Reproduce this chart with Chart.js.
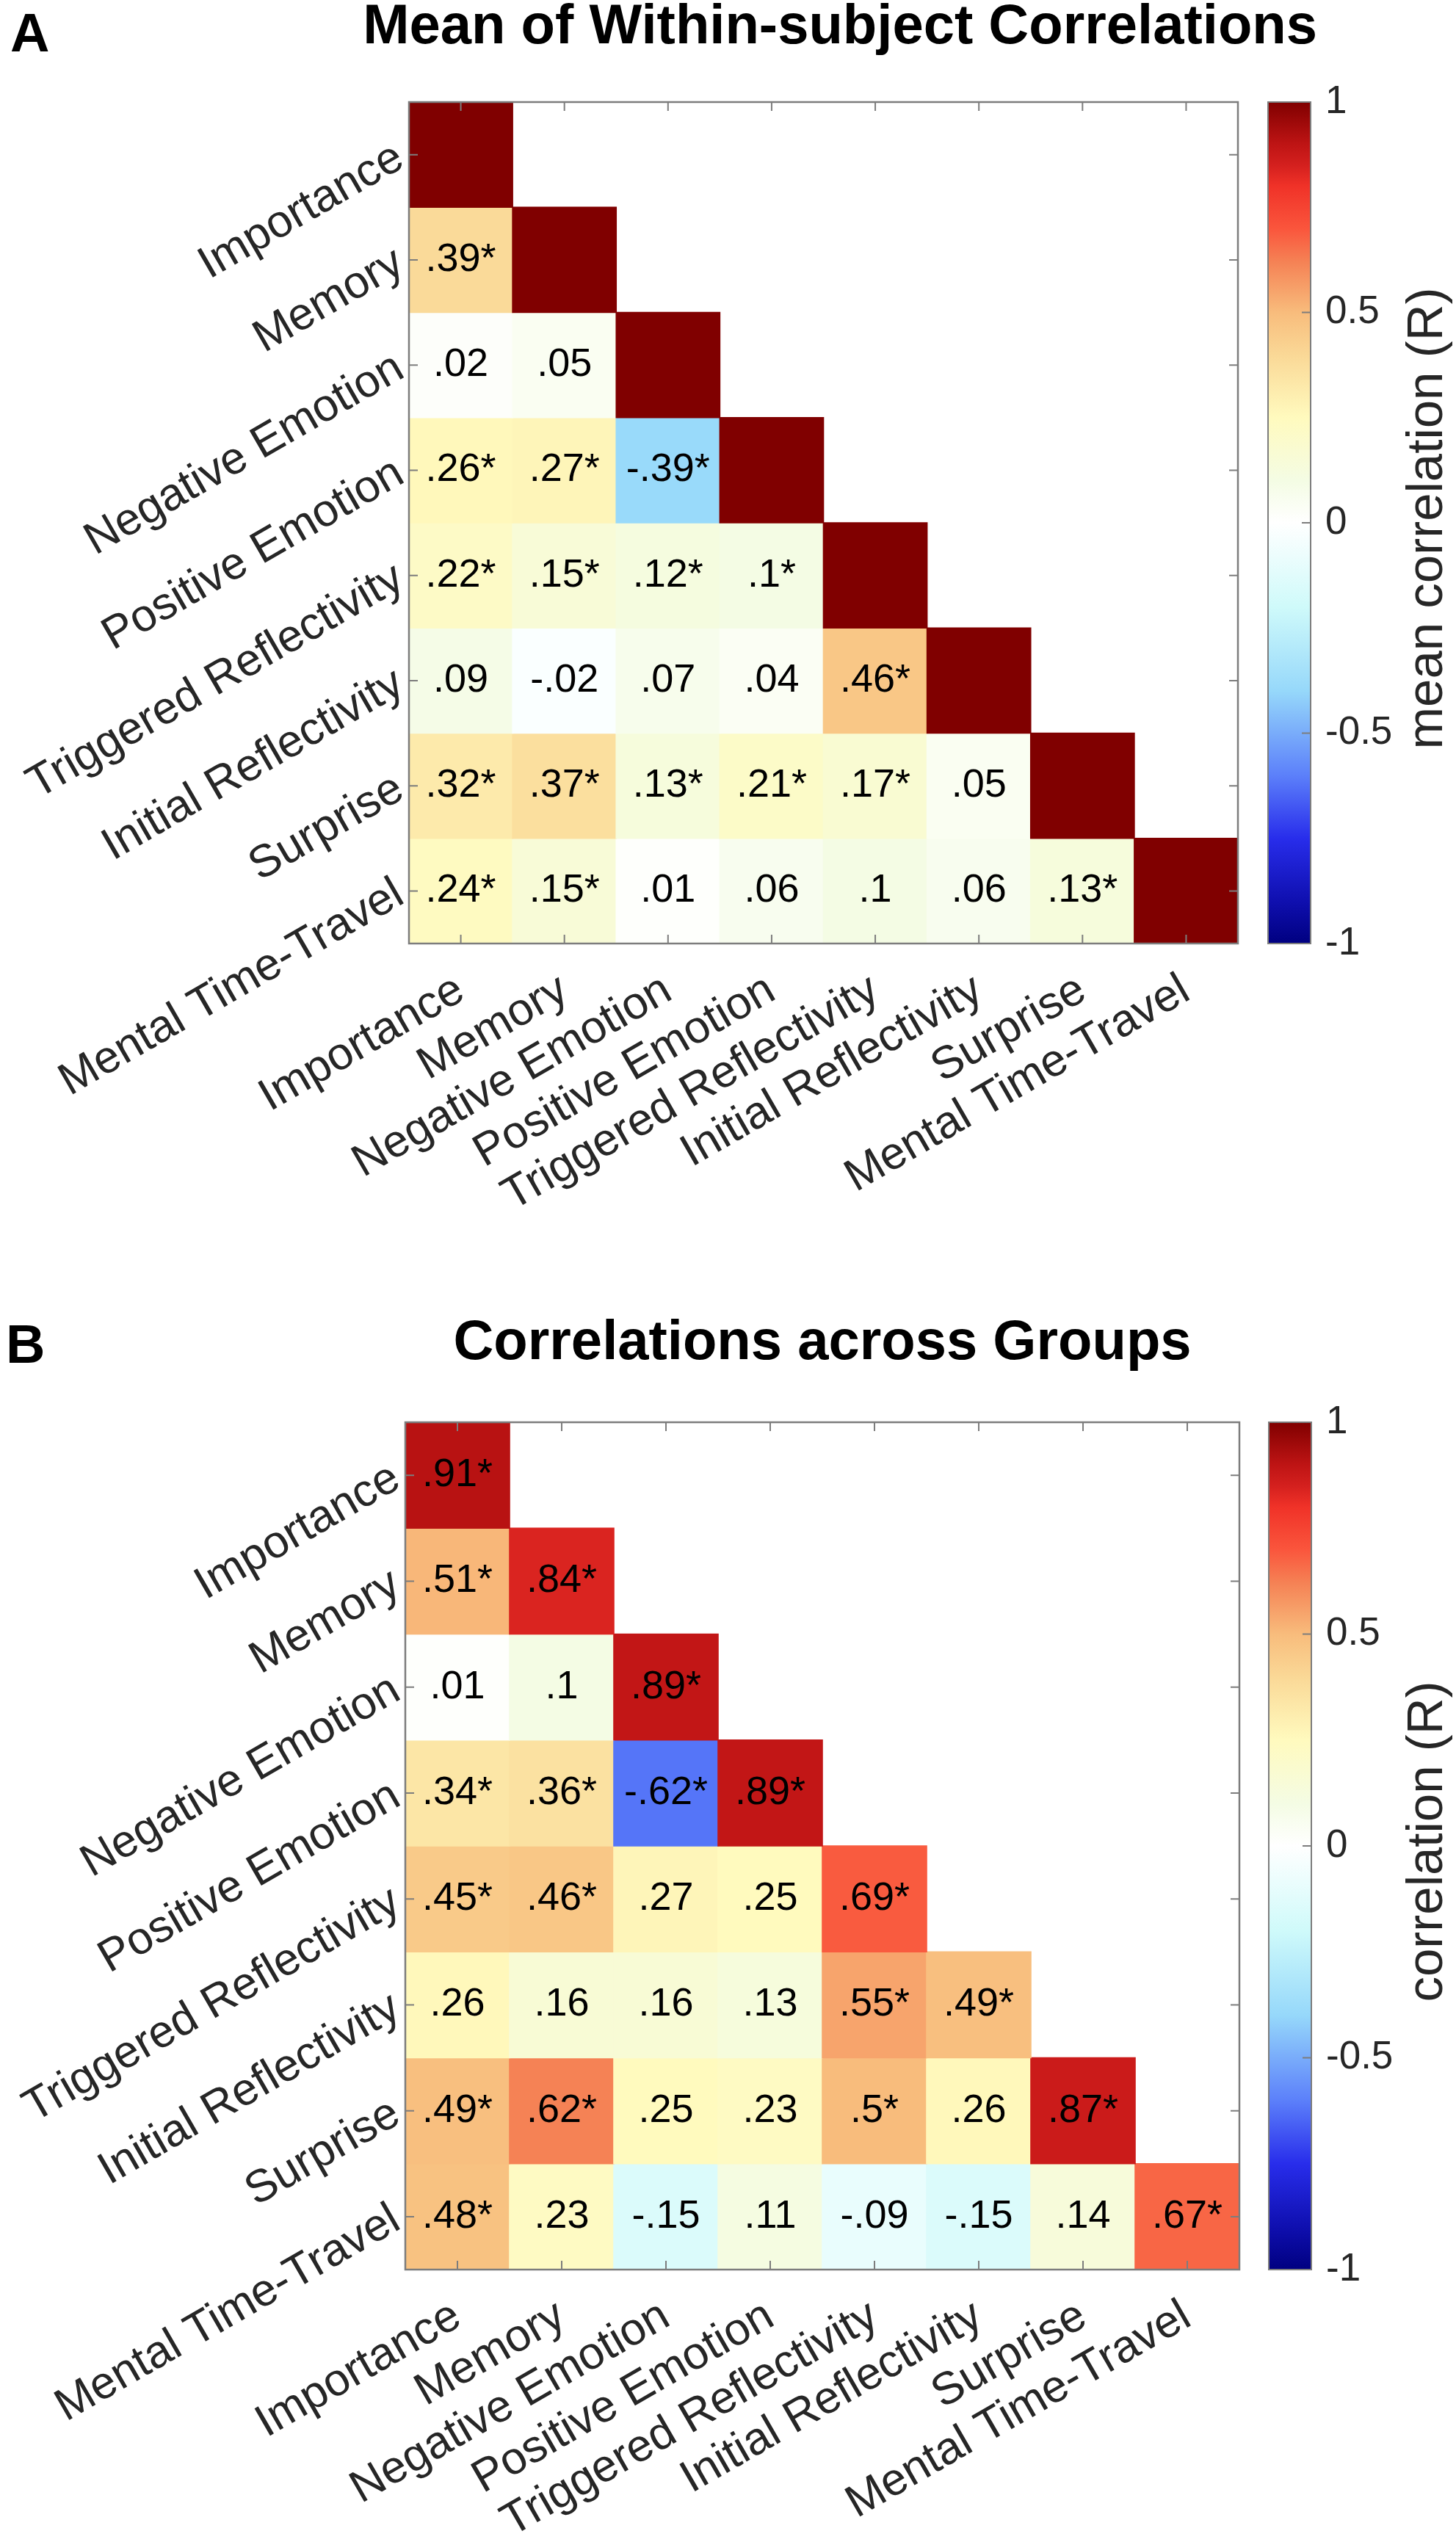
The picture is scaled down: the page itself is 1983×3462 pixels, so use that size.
<!DOCTYPE html>
<html><head><meta charset="utf-8">
<script src="https://cdn.jsdelivr.net/npm/chart.js@4.4.1/dist/chart.umd.min.js"></script>
<style>
html,body{margin:0;padding:0;background:#fff;}
#wrap{position:relative;width:1983px;height:3462px;overflow:hidden;background:#fff;}
.box{position:absolute;}
.letter{position:absolute;font-family:'Liberation Sans',Arial,sans-serif;font-weight:bold;font-size:74px;line-height:74px;color:#000;}
</style></head><body>
<div id="wrap">
 <div class="box" style="left:0;top:0;width:1983px;height:1720px"><canvas id="heatA"></canvas></div>
 <div class="box" style="left:1700px;top:0;width:283px;height:1720px"><canvas id="barA"></canvas></div>
 <div class="box" style="left:0;top:1760px;width:1983px;height:1702px"><canvas id="heatB"></canvas></div>
 <div class="box" style="left:1700px;top:1760px;width:283px;height:1702px"><canvas id="barB"></canvas></div>
 <div class="letter" style="left:14px;top:8px">A</div>
 <div class="letter" style="left:8px;top:1794px">B</div>
</div>
<script>
// ---------------- data ----------------
const categories = ["Importance","Memory","Negative Emotion","Positive Emotion","Triggered Reflectivity","Initial Reflectivity","Surprise","Mental Time-Travel"];

const corrWithin = [
 [1],
 [0.39, 1],
 [0.02, 0.05, 1],
 [0.26, 0.27, -0.39, 1],
 [0.22, 0.15, 0.12, 0.10, 1],
 [0.09, -0.02, 0.07, 0.04, 0.46, 1],
 [0.32, 0.37, 0.13, 0.21, 0.17, 0.05, 1],
 [0.24, 0.15, 0.01, 0.06, 0.10, 0.06, 0.13, 1]
];
const sigWithin = [
 [0],
 [1,0],
 [0,0,0],
 [1,1,1,0],
 [1,1,1,1,0],
 [0,0,0,0,1,0],
 [1,1,1,1,1,0,0],
 [1,1,0,0,0,0,1,0]
];
const corrGroups = [
 [0.91],
 [0.51, 0.84],
 [0.01, 0.10, 0.89],
 [0.34, 0.36, -0.62, 0.89],
 [0.45, 0.46, 0.27, 0.25, 0.69],
 [0.26, 0.16, 0.16, 0.13, 0.55, 0.49],
 [0.49, 0.62, 0.25, 0.23, 0.50, 0.26, 0.87],
 [0.48, 0.23, -0.15, 0.11, -0.09, -0.15, 0.14, 0.67]
];
const sigGroups = [
 [1],
 [1,1],
 [0,0,1],
 [1,1,1,1],
 [1,1,0,0,1],
 [0,0,0,0,1,1],
 [1,1,0,0,1,0,1],
 [1,0,0,0,0,0,0,1]
];
const colorbarTicks = [-1, -0.5, 0, 0.5, 1];

// colormap (value -> colour)
const cmapAt  = [-1, -0.9, -0.75, -0.6, -0.4, -0.2, 0, 0.1, 0.25, 0.4, 0.5, 0.62, 0.7, 0.8, 0.85, 0.9, 1];
const cmapRGB = [[0,0,128],[15,15,175],[40,45,235],[92,128,250],[150,216,250],[207,250,250],[255,255,255],[244,252,228],[255,250,190],[250,216,150],[248,188,124],[245,130,85],[250,85,60],[240,50,40],[212,32,30],[190,20,20],[128,0,0]];

// ---------------- helpers ----------------
const FONT = "'Liberation Sans', Arial, Helvetica, sans-serif";
Chart.defaults.font.family = FONT;

function colorFor(v) {
  if (v <= cmapAt[0]) return `rgb(${cmapRGB[0].join(',')})`;
  for (let i = 1; i < cmapAt.length; i++) {
    if (v <= cmapAt[i]) {
      const t = (v - cmapAt[i-1]) / (cmapAt[i] - cmapAt[i-1]);
      const a = cmapRGB[i-1], b = cmapRGB[i];
      return `rgb(${a.map((c, k) => Math.round(c + (b[k] - c) * t)).join(',')})`;
    }
  }
  return `rgb(${cmapRGB[cmapRGB.length-1].join(',')})`;
}
function fmt(v) {
  const s = String(Math.round(v * 100) / 100);
  return s.replace(/^(-?)0\./, '$1.');
}

const heatDecor = {
  id: 'heatDecor',
  afterDatasetsDraw(chart, args, opts) {
    const {ctx, chartArea: a, scales: {x, y}} = chart;
    ctx.save();
    ctx.font = `${opts.valueSize}px ${FONT}`;
    ctx.fillStyle = '#000';
    ctx.textAlign = 'center';
    ctx.textBaseline = 'middle';
    chart.data.datasets.forEach((ds, r) => {
      const meta = chart.getDatasetMeta(r);
      meta.data.forEach((el, c) => {
        const t = ds.cellLabels[c];
        if (!t) return;
        const p = el.getProps(['x', 'y', 'base'], true);
        ctx.fillText(t, p.x, (p.y + p.base) / 2);
      });
    });
    // inward tick marks on all four sides
    ctx.strokeStyle = '#7d7d7d';
    ctx.lineWidth = 2;
    const tl = 12;
    ctx.beginPath();
    categories.forEach((_, i) => {
      const px = x.getPixelForValue(i);
      ctx.moveTo(px, a.bottom); ctx.lineTo(px, a.bottom - tl);
      ctx.moveTo(px, a.top); ctx.lineTo(px, a.top + tl);
      const py = y.getPixelForValue(i + 0.5);
      ctx.moveTo(a.left, py); ctx.lineTo(a.left + tl, py);
      ctx.moveTo(a.right, py); ctx.lineTo(a.right - tl, py);
    });
    ctx.stroke();
    ctx.lineWidth = 2.5;
    ctx.strokeRect(a.left, a.top, a.right - a.left, a.bottom - a.top);
    ctx.restore();
  }
};

const barDecor = {
  id: 'barDecor',
  afterDatasetsDraw(chart, args, opts) {
    const {ctx, chartArea: a, scales: {y}} = chart;
    ctx.save();
    ctx.strokeStyle = '#7d7d7d';
    ctx.lineWidth = 2;
    ctx.beginPath();
    colorbarTicks.forEach(v => {
      const py = y.getPixelForValue(v);
      ctx.moveTo(a.right, py); ctx.lineTo(a.right - 12, py);
    });
    ctx.stroke();
    ctx.strokeRect(a.left, a.top, a.right - a.left, a.bottom - a.top);
    // colorbar label (reads bottom-to-top)
    ctx.translate(opts.labelX, (a.top + a.bottom) / 2 + opts.labelDy);
    ctx.rotate(-Math.PI / 2);
    ctx.font = `${opts.labelSize}px ${FONT}`;
    ctx.fillStyle = '#262626';
    ctx.textAlign = 'center';
    ctx.textBaseline = 'alphabetic';
    ctx.fillText(opts.label, 0, 0);
    ctx.restore();
  }
};

function makeHeat(id, values, sigs, showDiag, titleText, g) {
  const datasets = values.map((row, r) => ({
    data: categories.map((_, c) => c <= r ? [r, r + 1] : null),
    backgroundColor: categories.map((_, c) => c <= r ? colorFor(row[c]) : 'rgba(0,0,0,0)'),
    cellLabels: categories.map((_, c) => (c <= r && (c !== r || showDiag)) ? fmt(row[c]) + (sigs[r][c] ? '*' : '') : ''),
    borderWidth: 0,
    inflateAmount: 0.8,
    barPercentage: 1,
    categoryPercentage: 1,
    grouped: false
  }));
  return new Chart(document.getElementById(id), {
    type: 'bar',
    data: {labels: categories, datasets},
    plugins: [heatDecor],
    options: {
      responsive: true,
      maintainAspectRatio: false,
      animation: false,
      events: [],
      layout: {padding: {left: 0, right: g.padRight, top: 0, bottom: 0}},
      plugins: {
        legend: {display: false},
        tooltip: {enabled: false},
        title: {
          display: true, text: titleText, fullSize: g.titleFull, align: g.titleAlign, color: '#000',
          font: {size: 76, weight: 'bold', lineHeight: 1.0},
          padding: {top: g.titlePadTop, bottom: g.top - g.titlePadTop - 76}
        },
        heatDecor: {valueSize: 54}
      },
      scales: {
        x: {
          type: 'category', position: 'bottom', offset: true,
          grid: {display: false, drawTicks: false},
          border: {display: false},
          ticks: {minRotation: 30, maxRotation: 30, autoSkip: false, padding: 27,
                  color: '#262626', font: {size: 62}},
          afterFit: s => { s.height = g.H - g.bottom; }
        },
        y: {
          type: 'linear', min: 0, max: categories.length, reverse: true,
          grid: {display: false, drawTicks: false},
          border: {display: false},
          afterBuildTicks: s => { s.ticks = categories.map((_, i) => ({value: i + 0.5})); },
          ticks: {minRotation: 30, maxRotation: 30, autoSkip: false, padding: 12,
                  color: '#262626', font: {size: 62},
                  callback: (v, i) => categories[i]},
          afterFit: s => { s.width = g.left; }
        },
        // empty spacer on the right: reserves the colour-bar column
        spacer: {
          type: 'linear', position: 'right', display: true,
          grid: {display: false, drawTicks: false},
          border: {display: false},
          ticks: {display: false},
          afterFit: s => { s.width = g.W - g.padRight - g.right; }
        }
      }
    }
  });
}

function makeBar(id, label, g) {
  return new Chart(document.getElementById(id), {
    type: 'bar',
    data: {
      labels: ['R'],
      datasets: [{
        data: [[colorbarTicks[0], colorbarTicks[colorbarTicks.length - 1]]],
        barPercentage: 1, categoryPercentage: 1, borderWidth: 0,
        backgroundColor: (c) => {
          const a = c.chart.chartArea;
          if (!a) return '#ccc';
          const grad = c.chart.ctx.createLinearGradient(0, a.bottom, 0, a.top);
          cmapAt.forEach((v, i) => grad.addColorStop((v + 1) / 2, `rgb(${cmapRGB[i].join(',')})`));
          return grad;
        }
      }]
    },
    plugins: [barDecor],
    options: {
      responsive: true,
      maintainAspectRatio: false,
      animation: false,
      events: [],
      layout: {padding: {left: g.cbLeft, right: 0, top: g.top, bottom: g.H - g.bottom}},
      plugins: {
        legend: {display: false},
        tooltip: {enabled: false},
        barDecor: {label, labelSize: 69, labelX: 264, labelDy: -6}
      },
      scales: {
        x: {display: false},
        y: {
          position: 'right', min: -1, max: 1,
          grid: {display: false, drawTicks: false},
          border: {display: false},
          afterBuildTicks: s => { s.ticks = colorbarTicks.map(v => ({value: v})); },
          ticks: {padding: 20, color: '#262626', font: {size: 53}, autoSkip: false,
                  callback: v => String(v)},
          afterFit: s => { s.width = g.W - g.cbRight; }
        }
      }
    }
  });
}

makeHeat('heatA', corrWithin, sigWithin, false, 'Mean of Within-subject Correlations',
  {W: 1983, H: 1720, left: 557, right: 1686, top: 139, bottom: 1285, titlePadTop: 0,
   titleFull: true, titleAlign: 'end', padRight: 189});
makeBar('barA', 'mean correlation (R)',
  {W: 283, H: 1720, cbLeft: 27, cbRight: 85, top: 139, bottom: 1285});
makeHeat('heatB', corrGroups, sigGroups, true, 'Correlations across Groups',
  {W: 1983, H: 1702, left: 552, right: 1688, top: 177, bottom: 1331, titlePadTop: 32,
   titleFull: false, titleAlign: 'center', padRight: 0});
makeBar('barB', 'correlation (R)',
  {W: 283, H: 1702, cbLeft: 28, cbRight: 86, top: 177, bottom: 1331});
</script>
</body></html>
